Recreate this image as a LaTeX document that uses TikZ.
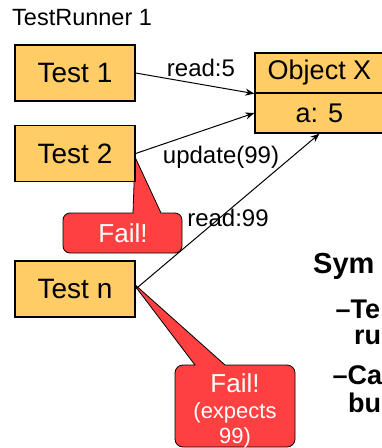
\documentclass[tikz,border=0pt]{standalone}
\usepackage{fontspec}
\setmainfont{Liberation Sans}
\usetikzlibrary{arrows.meta}
\definecolor{boxfill}{RGB}{255,204,102}
\definecolor{failred}{RGB}{255,64,64}
\begin{document}
\begin{tikzpicture}[x=1pt,y=-1pt,
  testbox/.style={draw=black, line width=1.3pt, fill=boxfill, minimum width=120pt, minimum height=56pt, inner sep=0pt, font=\fontsize{28}{32}\selectfont},
  objbox/.style={draw=black, line width=1.3pt, fill=boxfill, minimum width=129pt, minimum height=40pt, inner sep=0pt, font=\fontsize{27}{30}\selectfont},
  arr/.style={draw=black, line width=1pt, -{Stealth[length=9pt,width=7pt]}},
  lbl/.style={anchor=base, inner sep=0pt, font=\fontsize{24}{28}\selectfont},
  callout/.style={draw=black, line width=0.8pt, fill=failred},
  failtxt/.style={text=white, inner sep=0pt, align=center},
  symp/.style={anchor=base west, inner sep=0pt, font=\fontsize{27}{30}\selectfont\bfseries}
]
\useasboundingbox (0,0) rectangle (382,448);
\clip (0,0) rectangle (382,448);

\node[anchor=base west, inner sep=0pt, font=\fontsize{23.5}{27}\selectfont] (title) at (12,25) {TestRunner 1};

% callout 1 (drawn before Test 2 so the box covers its tip)
\draw[callout] (133,213) -- (135,157) -- (161,213)
  {[rounded corners=7pt] -- (182,213) -- (182,253) -- (63,253) -- (63,213)} -- cycle;
\node[failtxt, font=\fontsize{26}{30}\selectfont] (fail1) at (123,233) {Fail!};

% callout 2
\draw[callout] (195,365) -- (132,282) -- (225,365)
  {[rounded corners=8pt] -- (295,365) -- (295,447) -- (175,447) -- (175,365)} -- cycle;
\node[failtxt, anchor=base, font=\fontsize{26}{30}\selectfont] (fail2) at (235,392) {Fail!};
\node[failtxt, anchor=base, font=\fontsize{22}{25}\selectfont] (exp) at (235,418) {(expects};
\node[failtxt, anchor=base, font=\fontsize{22}{25}\selectfont] (nn) at (235,443) {99)};

\node[testbox] (t1) at (75,73) {Test 1};
\node[testbox] (t2) at (75,153.5) {Test 2};
\node[testbox] (tn) at (75,289) {Test n};

\node[objbox] (ox) at (319.5,73) {Object X};
\node[objbox] (oa) at (319.5,113) {a: 5};

\draw[arr] (t1.east) -- (ox.south west);
\draw[arr] (t2.east) -- (oa.west);
\draw[arr] (tn.east) -- (oa.south);

\node[lbl] (l1) at (201,76) {read:5};
\node[lbl] (l2) at (221,163) {update(99)};
\node[lbl] (l3) at (228,226) {read:99};

\node[symp, font=\fontsize{29}{32}\selectfont\bfseries] (s0) at (313,273) {Sym};
\node[symp] (s1) at (335.5,318) {–Te};
\node[symp] (s2) at (354,344) {ru};
\node[symp] (s3) at (332.5,384) {–Ca};
\node[symp] (s4) at (348,412) {bu};
\end{tikzpicture}
\end{document}
